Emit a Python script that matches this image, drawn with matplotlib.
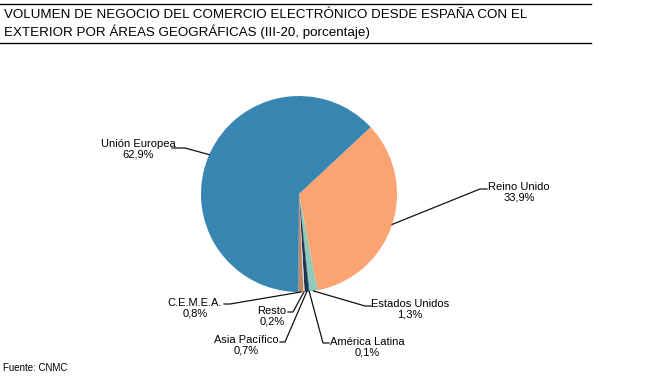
import numpy as np
import matplotlib.pyplot as plt

# datos (III-20, %)
regiones = ["Reino Unido", "Estados Unidos", "América Latina", "Asia Pacífico",
            "Resto", "C.E.M.E.A.", "Unión Europea"]
porcentajes = [33.9, 1.3, 0.1, 0.7, 0.2, 0.8, 62.9]
colores = ["#FCA471", "#8FCBBB", "#2B4C6B", "#1C3550", "#D9D9D9", "#C4865F", "#3786B2"]

# posicion de etiquetas (pixeles, y hacia abajo) y codo de la linea guia
etiquetas_pos = {
    "Reino Unido":    ((519, 192), (487, 189), (480, 189)),
    "Estados Unidos": ((410, 309), (371, 306), (365, 306)),
    "América Latina": ((367, 347), (329, 343), (323, 343)),
    "Asia Pacífico":  ((246, 345), (280, 342), (285, 342)),
    "Resto":          ((272, 316), (288, 312), (293, 312)),
    "C.E.M.E.A.":     ((195, 308), (224, 304), (230, 304)),
    "Unión Europea":  ((138, 149), (172, 148), (185, 148)),
}

W, H = 654, 381
plt.rcParams['font.family'] = ['Liberation Sans', 'DejaVu Sans']
fig = plt.figure(figsize=(W / 100, H / 100), dpi=100)
ax = fig.add_axes([0, 0, 1, 1])

cx, cy, r = 299, H - 194, 98
wedges, _ = ax.pie(porcentajes, colors=colores, startangle=43, counterclock=False,
                   center=(cx, cy), radius=r, frame=True,
                   wedgeprops=dict(linewidth=0))
ax.set_xlim(0, W)
ax.set_ylim(0, H)
ax.set_aspect("equal")
ax.axis("off")

for w, nombre, pct in zip(wedges, regiones, porcentajes):
    ang = np.deg2rad((w.theta1 + w.theta2) / 2)
    px, py = cx + r * np.cos(ang), cy + r * np.sin(ang)
    (tx, ty), (ax1, ay1), (ax2, ay2) = etiquetas_pos[nombre]
    ax.plot([ax1, ax2, px], [H - ay1, H - ay2, py], color="#111111", lw=0.9)
    valor = f"{pct:.1f}".replace(".", ",")
    ax.text(tx, H - ty, f"{nombre}\n{valor}%",
            ha="center", va="center", fontsize=8, linespacing=1.1)

# titulo
ax.plot([0, 591], [H - 3.5, H - 3.5], color="black", lw=1)
ax.plot([0, 591], [H - 42.5, H - 42.5], color="black", lw=1)
ax.text(4, H - 15, "VOLUMEN DE NEGOCIO DEL COMERCIO ELECTRÓNICO DESDE ESPAÑA CON EL",
        fontsize=9.6, va="center", ha="left")
ax.text(4, H - 32, "EXTERIOR POR ÁREAS GEOGRÁFICAS (III-20, porcentaje)",
        fontsize=9.6, va="center", ha="left")

ax.text(3, H - 368, "Fuente: CNMC", fontsize=7, va="center", ha="left")

plt.savefig("out.png", dpi=100)
plt.close()
